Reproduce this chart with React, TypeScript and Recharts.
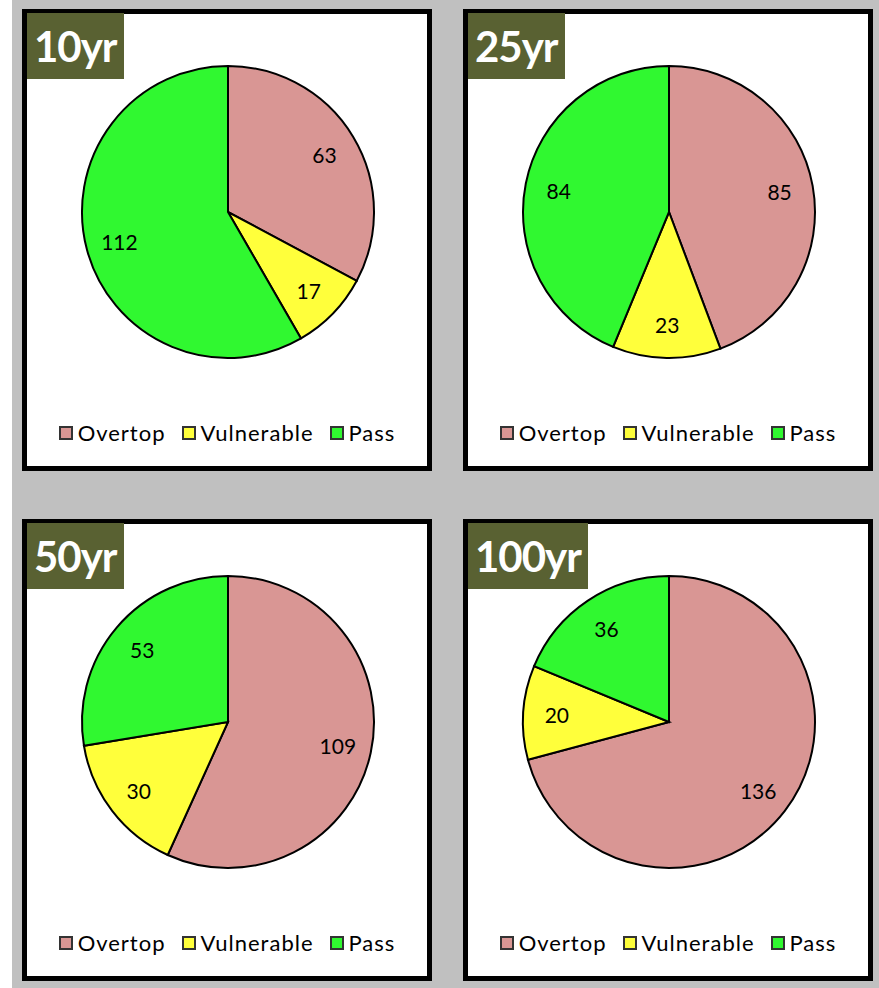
import React from "react";
import { PieChart, Pie, Cell, Legend } from "recharts";

const categories = ["Overtop", "Vulnerable", "Pass"];
const colors = ["#d99694", "#ffff3b", "#30f830"];
const periods = ["10yr", "25yr", "50yr", "100yr"];
const counts10 = [63, 17, 112];
const counts25 = [85, 23, 84];
const counts50 = [109, 30, 53];
const counts100 = [136, 20, 36];

const panelData = [counts10, counts25, counts50, counts100];
const font = "Lato, 'Open Sans', sans-serif";
const RAD = Math.PI / 180;

const renderLabel = (p: any) => {
  const r = p.outerRadius * 0.77;
  const x = p.cx + r * Math.cos(-p.midAngle * RAD);
  const y = p.cy + r * Math.sin(-p.midAngle * RAD);
  return (
    <text x={x} y={y} textAnchor="middle" dominantBaseline="central" fontSize={21} fontFamily={font} fill="#000">
      {p.value}
    </text>
  );
};

const LegendBox = () => (
  <div
    style={{
      display: "flex",
      justifyContent: "center",
      alignItems: "center",
      fontFamily: font,
      fontSize: 22,
      letterSpacing: 1,
      color: "#000",
    }}
  >
    {categories.map((c, i) => (
      <span key={c} style={{ display: "flex", alignItems: "center", marginRight: i < 2 ? 16 : 0 }}>
        <span
          style={{
            width: 10,
            height: 10,
            background: colors[i],
            border: "2px solid #333",
            marginRight: 5,
            display: "inline-block",
          }}
        />
        {c}
      </span>
    ))}
  </div>
);

function Panel(props: { left: number; top: number; title: string; values: number[] }) {
  const data = categories.map((c, i) => ({ name: c, value: props.values[i] }));
  return (
    <div
      style={{
        position: "absolute",
        left: props.left,
        top: props.top,
        width: 400,
        height: 452,
        border: "5px solid #000",
        background: "#fff",
      }}
    >
      <PieChart width={400} height={452} margin={{ top: 0, right: 0, bottom: 0, left: 0 }}>
        <Pie
          data={data}
          dataKey="value"
          nameKey="name"
          cx={201}
          cy={198}
          outerRadius={146}
          startAngle={90}
          endAngle={-270}
          stroke="#000"
          strokeWidth={2}
          label={renderLabel}
          labelLine={false}
          isAnimationActive={false}
        >
          {data.map((d, i) => (
            <Cell key={d.name} fill={colors[i]} />
          ))}
        </Pie>
        <Legend
          verticalAlign="bottom"
          wrapperStyle={{ top: 405, bottom: "auto", left: 0, width: 400 }}
          content={<LegendBox />}
        />
      </PieChart>
      <div
        style={{
          position: "absolute",
          left: 0,
          top: -1,
          height: 66,
          padding: "0 7px",
          background: "#596132",
          color: "#fff",
          fontFamily: font,
          fontWeight: 700,
          fontSize: 42,
          lineHeight: "66px",
          letterSpacing: -1,
        }}
      >
        {props.title}
      </div>
    </div>
  );
}

export default function App() {
  const pos = [
    [22, 9],
    [463, 9],
    [22, 519],
    [463, 519],
  ];
  return (
    <div style={{ position: "absolute", left: 0, top: 0, width: 879, height: 988, background: "#fff" }}>
      <div style={{ position: "absolute", left: 12, top: 0, width: 867, height: 988, background: "#c0c0c0" }} />
      {periods.map((p, i) => (
        <Panel key={p} left={pos[i][0]} top={pos[i][1]} title={p} values={panelData[i]} />
      ))}
    </div>
  );
}
